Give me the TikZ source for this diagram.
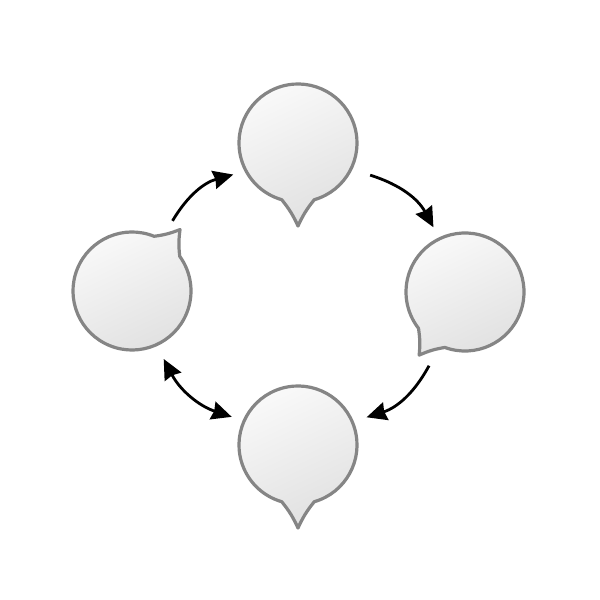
\documentclass[tikz,border=0pt]{standalone}
\usepackage{tikz}
\usetikzlibrary{arrows.meta}
\usetikzlibrary{calc}
\newcommand{\bubble}[4]{\node[hole] (#1) at (#2) {};
\draw[bub] ([shift={(#3+16:59)}]#1.center) arc[start angle=#3+16, end angle=#3+344, radius=59]
  to[bend left=7] ([shift={(#3:#4)}]#1.center) to[bend left=7] cycle;}

\begin{document}
\begin{tikzpicture}[x=0.025cm,y=0.025cm,>={Stealth[length=5mm,width=4.6mm,inset=0.4mm]},
  hole/.style={circle,minimum size=2.95cm,inner sep=0pt,outer sep=0pt},
  bub/.style={draw=black!48,line width=0.8mm,line join=round,top color=gray!4,bottom color=gray!24,shading angle=25},
  arr/.style={line width=0.7mm}]
\fill[white](0,0)rectangle(600,600);
\bubble{top}{298,457}{270}{83}
\bubble{bottom}{298,155}{270}{83}
\bubble{left}{132,309}{52}{78}
\bubble{right}{465,308}{234}{78}
\draw[->,arr]([shift={(60:81)}]left.center)to[bend left=22]([shift={(206:72)}]top.center);
\draw[->,arr]([shift={(-24:79)}]top.center)to[bend left=22]([shift={(116:72)}]right.center);
\draw[->,arr]([shift={(244:82)}]right.center)to[bend left=22]([shift={(22:74)}]bottom.center);
\draw[<->,arr]([shift={(295:75)}]left.center)to[bend right=22]([shift={(157:72)}]bottom.center);
\end{tikzpicture}
\end{document}
